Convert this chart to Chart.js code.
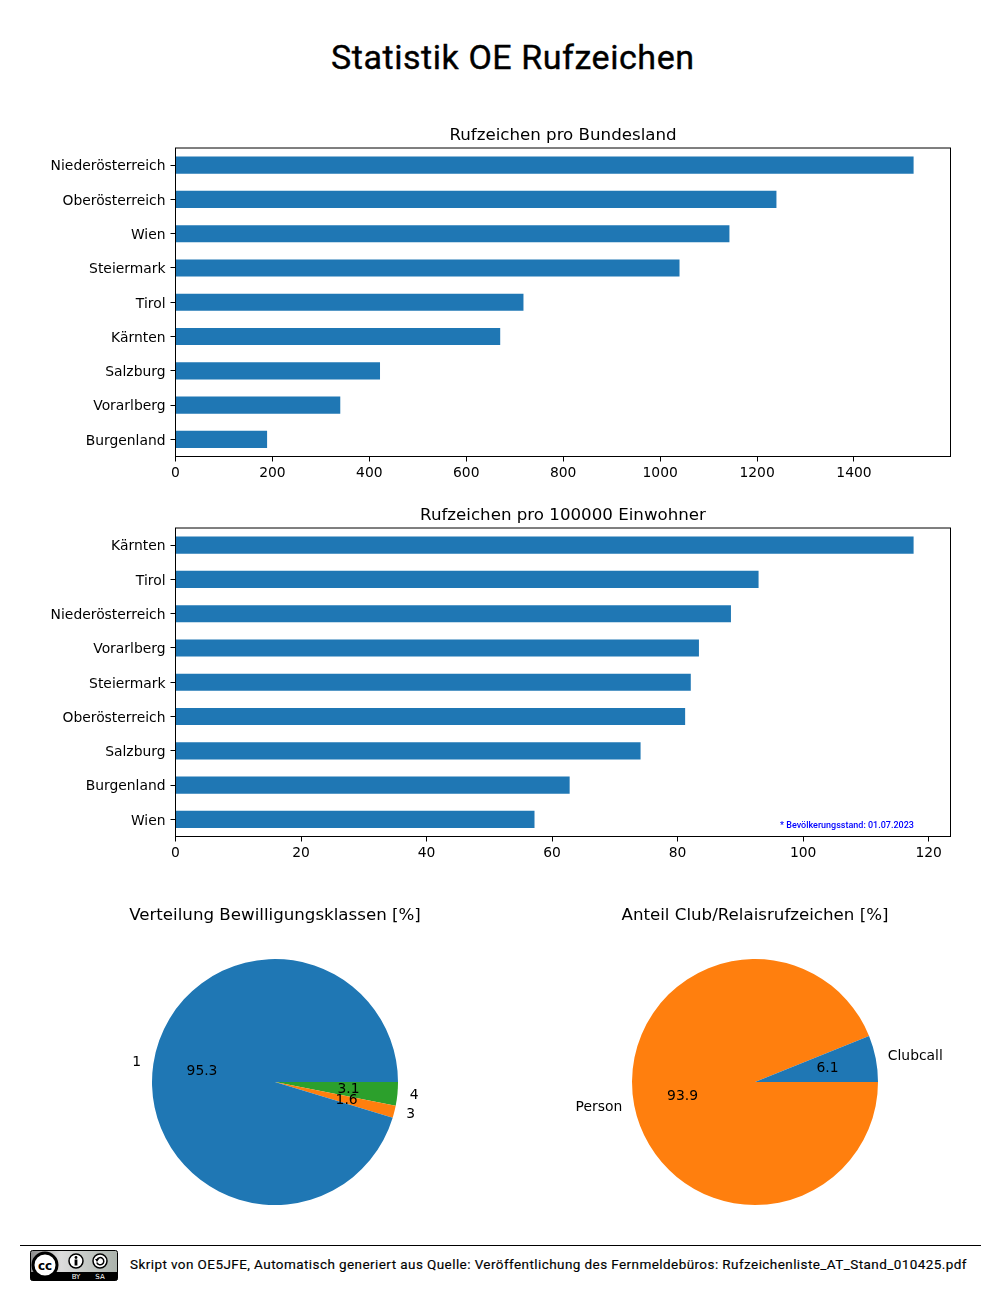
<!DOCTYPE html>
<html>
<head>
<meta charset="utf-8">
<title>Statistik OE Rufzeichen</title>
<script src="https://cdn.jsdelivr.net/npm/chart.js@4"></script>
<style>
  html, body { margin: 0; padding: 0; background: #fff; }
  #page { position: relative; width: 1000px; height: 1300px; overflow: hidden; }
  canvas { position: absolute; }
  .din { position: absolute; font-family: Roboto, sans-serif; color: #000; white-space: nowrap; }
  #title { left: 331px; top: 37px; font-size: 34px; font-weight: 400; letter-spacing: 0.56px; line-height: 40px; -webkit-text-stroke: 0.4px #000; }
  #note { left: 780px; top: 820px; font-size: 9px; font-weight: 500; line-height: 10px; color: #0000ff; }
  #rule { position: absolute; left: 20px; top: 1245px; width: 961px; height: 1px; background: #000; }
  #foot { left: 130px; top: 1256px; font-size: 13.5px; letter-spacing: 0.42px; line-height: 16px; -webkit-text-stroke: 0.15px #000; }
  #badge { position: absolute; left: 30px; top: 1250px; }
</style>
</head>
<body>
<div id="page">
  <canvas id="bars1" width="1000" height="387" style="left:0;top:100px"></canvas>
  <canvas id="bars2" width="1000" height="387" style="left:0;top:480px"></canvas>
  <canvas id="pie1" width="480" height="340" style="left:35px;top:890px"></canvas>
  <canvas id="pie2" width="480" height="340" style="left:515px;top:890px"></canvas>
  <div id="title" class="din">Statistik OE Rufzeichen</div>
  <div id="note" class="din">* Bevölkerungsstand: 01.07.2023</div>
  <div id="rule"></div>
  <svg id="badge" width="88" height="31" viewBox="0 0 88 31">
    <defs>
      <linearGradient id="bg" x1="0" x2="1" y1="0" y2="0">
        <stop offset="0" stop-color="#8a8a8a"/>
        <stop offset="0.35" stop-color="#dcdcdc"/>
        <stop offset="1" stop-color="#aab2ab"/>
      </linearGradient>
    </defs>
    <rect x="0.5" y="0.5" width="87" height="30" rx="2" fill="url(#bg)" stroke="#000"/>
    <path d="M0.5 22 H87.5 V28.5 a2 2 0 0 1 -2 2 H2.5 a2 2 0 0 1 -2 -2 Z" fill="#000"/>
    <circle cx="15" cy="15" r="12" fill="#fff" stroke="#000" stroke-width="3"/>
    <text x="15" y="19.5" text-anchor="middle" font-family="'DejaVu Sans'" font-weight="bold" font-size="12">cc</text>
    <circle cx="46" cy="11" r="7" fill="#fff" stroke="#000" stroke-width="1.5"/>
    <circle cx="46" cy="7.5" r="1.4" fill="#000"/>
    <rect x="44.6" y="9.5" width="2.8" height="6" fill="#000"/>
    <circle cx="70" cy="11" r="7" fill="#fff" stroke="#000" stroke-width="1.5"/>
    <path d="M67 9.5 A3.6 3.6 0 1 1 66.8 12.5" fill="none" stroke="#000" stroke-width="1.5"/>
    <path d="M65 9 L69 9 L67 12 Z" fill="#000"/>
    <text x="46" y="29" text-anchor="middle" font-family="'DejaVu Sans'" font-size="7" fill="#fff">BY</text>
    <text x="70" y="29" text-anchor="middle" font-family="'DejaVu Sans'" font-size="7" fill="#fff">SA</text>
  </svg>
  <div id="foot" class="din">Skript von OE5JFE, Automatisch generiert aus Quelle: Veröffentlichung des Fernmeldebüros: Rufzeichenliste_AT_Stand_010425.pdf</div>
</div>
<script>
const statesTotal = ["Niederösterreich", "Oberösterreich", "Wien", "Steiermark", "Tirol", "Kärnten", "Salzburg", "Vorarlberg", "Burgenland"]
const valuesTotal = [1523, 1240, 1143, 1040, 718, 670, 422, 340, 189]

const statesPerCapita = ["Kärnten", "Tirol", "Niederösterreich", "Vorarlberg", "Steiermark", "Oberösterreich", "Salzburg", "Burgenland", "Wien"]
const valuesPerCapita = [117.6, 92.9, 88.5, 83.4, 82.1, 81.2, 74.1, 62.8, 57.2]

// listed clockwise from east, the way Chart.js walks round a pie
const classLabels = ["4", "3", "1"]
const classValues = [3.1, 1.6, 95.3]
const clubLabels = ["Person", "Clubcall"]
const clubValues = [93.9, 6.1]

const tabBlue = "#1f77b4"
const tabOrange = "#ff7f0e"
const tabGreen = "#2ca02c"
const fontFamily = "'DejaVu Sans'"

Chart.defaults.animation = false
Chart.defaults.responsive = false
Chart.defaults.color = "#000"
Chart.defaults.font.family = fontFamily
Chart.defaults.font.size = 13.89

const axesFrame = {
    id: "axesFrame",
    afterDatasetsDraw(chart){
        const a = chart.chartArea
        const ctx = chart.ctx
        ctx.save()
        ctx.strokeStyle = "#000"
        ctx.lineWidth = 1
        ctx.strokeRect(a.left, a.top, a.right - a.left, a.bottom - a.top)
        ctx.restore()
    }
}

function barChart(id, labels, values, title, step){
    return new Chart(document.getElementById(id), {
        type: "bar",
        data: {
            labels: labels,
            datasets: [{ data: values, backgroundColor: tabBlue, categoryPercentage: 1, barPercentage: 0.5 }]
        },
        options: {
            indexAxis: "y",
            layout: { padding: { top: 26, right: 49.5, bottom: 0, left: 0 } },
            plugins: {
                legend: { display: false },
                tooltip: { enabled: false },
                title: {
                    display: true, text: title, fullSize: false,
                    color: "#000", font: { size: 16.67, weight: "normal" },
                    padding: { top: 0, bottom: 2 }
                }
            },
            scales: {
                x: {
                    type: "linear", min: 0, max: Math.max(...values) * 1.05,
                    border: { color: "#000" },
                    grid: { drawOnChartArea: false, color: "#000", tickLength: 5 },
                    ticks: { color: "#000", padding: 4, maxRotation: 0, autoSkip: false, callback: v => String(v) },
                    afterBuildTicks: scale => {
                        const ticks = []
                        for(let v = 0; v <= scale.max; v += step) ticks.push({ value: v })
                        scale.ticks = ticks
                    },
                    afterFit: scale => { scale.height = 30.5 }
                },
                y: {
                    border: { color: "#000" },
                    grid: { drawOnChartArea: false, color: "#000", tickLength: 5, offset: false },
                    ticks: { color: "#000", padding: 5, autoSkip: false, labelOffset: 1.7 },
                    afterFit: scale => { scale.width = 175.5 }
                }
            }
        },
        plugins: [axesFrame]
    })
}

// same placement as matplotlib's labeldistance=1.1 and pctdistance=0.6
const pieLabels = {
    id: "pieLabels",
    afterDatasetsDraw(chart){
        const ctx = chart.ctx
        const values = chart.data.datasets[0].data
        ctx.save()
        ctx.fillStyle = "#000"
        ctx.font = "13.89px " + fontFamily
        ctx.textBaseline = "middle"
        chart.getDatasetMeta(0).data.forEach((arc, i) => {
            const mid = (arc.startAngle + arc.endAngle) / 2
            const r = arc.outerRadius
            const lx = arc.x + Math.cos(mid) * r * 1.1
            const ly = arc.y + Math.sin(mid) * r * 1.1
            ctx.textAlign = Math.cos(mid) > 0 ? "left" : "right"
            ctx.fillText(chart.data.labels[i], lx, ly)
            ctx.textAlign = "center"
            ctx.fillText(values[i].toFixed(1), arc.x + Math.cos(mid) * r * 0.6, arc.y + Math.sin(mid) * r * 0.6)
        })
        ctx.restore()
    }
}

function pieChart(id, labels, values, colors, title){
    return new Chart(document.getElementById(id), {
        type: "pie",
        data: {
            labels: labels,
            datasets: [{ data: values, backgroundColor: colors, borderWidth: 0 }]
        },
        options: {
            rotation: 90,
            layout: { padding: { top: 16, right: 0, bottom: 25, left: 0 } },
            plugins: {
                legend: { display: false },
                tooltip: { enabled: false },
                title: {
                    display: true, text: title,
                    color: "#000", font: { size: 16.67, weight: "normal" },
                    padding: { top: 0, bottom: 33 }
                }
            }
        },
        plugins: [pieLabels]
    })
}

barChart("bars1", statesTotal, valuesTotal, "Rufzeichen pro Bundesland", 200)
barChart("bars2", statesPerCapita, valuesPerCapita, "Rufzeichen pro 100000 Einwohner", 20)
pieChart("pie1", classLabels, classValues, [tabGreen, tabOrange, tabBlue], "Verteilung Bewilligungsklassen [%]")
pieChart("pie2", clubLabels, clubValues, [tabOrange, tabBlue], "Anteil Club/Relaisrufzeichen [%]")
</script>
</body>
</html>
